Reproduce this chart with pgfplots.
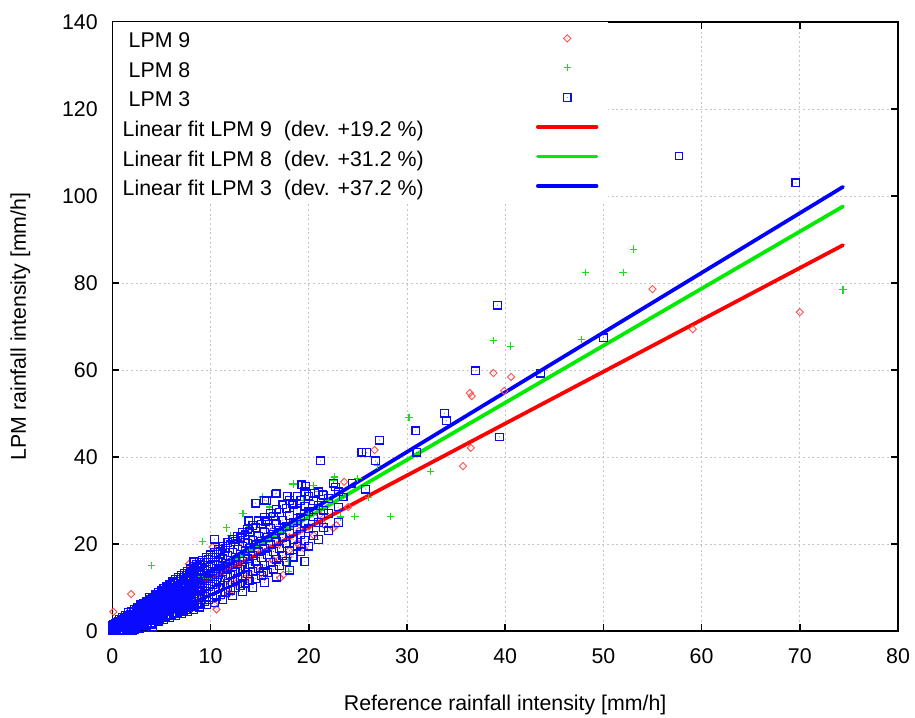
\documentclass[border=0pt]{standalone}
\usepackage{fontspec}
\setmainfont{Liberation Sans}
\usepackage{pgfplots}
\pgfplotsset{compat=1.18}

\definecolor{fitred}{RGB}{255,0,0}
\definecolor{fitgreen}{RGB}{0,235,0}
\definecolor{fitblue}{RGB}{0,0,255}
\definecolor{ptred}{RGB}{255,80,80}
\definecolor{ptgreen}{RGB}{20,225,20}
\definecolor{ptblue}{RGB}{10,10,255}

% square / diamond with a dot in the middle
\pgfdeclareplotmark{sqdot}{%
  \pgfpathrectangle{\pgfqpoint{-\pgfplotmarksize}{-\pgfplotmarksize}}{\pgfqpoint{2\pgfplotmarksize}{2\pgfplotmarksize}}%
  \pgfusepathqstroke
  \pgfpathcircle{\pgfpointorigin}{0.35pt}\pgfusepathqfill}
\pgfdeclareplotmark{diadot}{%
  \pgfpathmoveto{\pgfqpoint{0pt}{\pgfplotmarksize}}%
  \pgfpathlineto{\pgfqpoint{\pgfplotmarksize}{0pt}}%
  \pgfpathlineto{\pgfqpoint{0pt}{-\pgfplotmarksize}}%
  \pgfpathlineto{\pgfqpoint{-\pgfplotmarksize}{0pt}}%
  \pgfpathclose\pgfusepathqstroke
  \pgfpathcircle{\pgfpointorigin}{0.3pt}\pgfusepathqfill}

\pgfplotsset{
  markleg/.style={legend image code/.code={%
      \path[draw=none, fill=none] (0pt,-4pt) rectangle (44pt,4pt);
      \draw[##1] plot coordinates {(22pt,0pt)};}},
  lineleg/.style={legend image code/.code={%
      \path[draw=none, fill=none] (0pt,-4pt) rectangle (44pt,4pt);
      \draw[##1] (0pt,0pt) -- (44pt,0pt);}},
}

\newcommand{\lent}[1]{\makebox[302pt][l]{\rule[-5pt]{0pt}{21.75pt}#1}}

\begin{document}
\fontsize{16}{19}\selectfont
\begin{tikzpicture}
\begin{axis}[
    scale only axis,
    width=589.2pt,
    height=456.75pt,
    xmin=0, xmax=80,
    ymin=0, ymax=140,
    xtick={0,10,...,80},
    ytick={0,20,...,140},
    grid=major,
    grid style={line width=0.6pt, gray!45, dash pattern=on 1.5pt off 2pt},
    axis line style={line width=1.2pt},
    tick align=inside,
    major tick length=5pt,
    tick style={line width=1.1pt, black},
    /pgf/number format/assume math mode=true,
    xticklabel style={yshift=-8pt},
    yticklabel style={xshift=-5.5pt},
    xlabel={Reference rainfall intensity [mm/h]},
    ylabel={LPM rainfall intensity [mm/h]},
    xlabel style={at={(axis description cs:0.5,-0.1215)}, anchor=center},
    ylabel style={at={(axis description cs:-0.117,0.5)}, anchor=center},
    legend style={draw=none, fill=white, at={(0,1)}, anchor=north west,
        inner xsep=7.5pt, inner ysep=2.5pt, row sep=3pt, column sep=8pt,
        nodes={inner sep=0pt}},
    legend cell align=left,
    legend plot pos=right,
    clip=false,
]
\coordinate (sw) at (rel axis cs:0,0);
\coordinate (ne) at (rel axis cs:1,1);

% LPM 9
\addplot[only marks, mark=diadot, mark size=2.7pt, color=ptred, line width=0.7pt, markleg]
coordinates {
(0.1,4.4) (0.2,2.0) (1.9,8.5) (7.8,15.4) (10.2,19.3) (10.6,5.0) (10.4,6.0)
(11.9,8.7) (11.8,8.5) (12.6,11.0) (9.3,8.3) (16.4,16.3) (17.1,12.2) (17.4,12.9)
(17.9,17.0) (18.8,20.2) (16.3,16.3) (19.0,20.0)
(21.1,26.7) (22.5,23.7) (23.6,34.3) (24.0,28.5) (26.7,41.6) (35.7,37.9)
(36.4,54.7) (36.6,54.0) (36.5,42.1) (38.8,59.3) (39.9,55.2) (40.6,58.4)
(55.0,78.6) (59.1,69.4) (70.0,73.3)
(1,1) (2,2.2) (3,3.5) (4,4.8) (5,5.8) (6,7) (7,8.5) (8,9.5) (9,10.8) (10,12)
(11,13) (12,14.5) (13,15.5) (14,16.5) (15,18) (16,19) (17,20) (18,21.5) (19,23)
(20,24) (14,13) (13,20.5) (16,24) (15,14.5) (12,11) (9,7) (19.5,19) (20.5,22)
(21.5,24.5) (22.8,24.3) (17,16.5) (8.3,13) (6,9.5) (3,6.5) (4.5,8) (13.5,12)
(11,10) (14,11.5) (15.5,12.5) (18,18.5)
};
\addlegendentry{\lent{\hspace{4.5pt}LPM 9}}

% LPM 8
\addplot[only marks, mark=+, mark size=2.7pt, color=ptgreen, line width=0.8pt, markleg]
coordinates {
(4.0,15.0) (9.2,20.5) (11.6,23.7) (13.3,27.1) (15.3,30.8) (16.0,28.5) (16.2,26.4)
(17.9,15.9) (17.9,13.6) (18.4,33.8) (22.5,34.7) (22.6,35.4) (23.2,26.2) (24.7,26.4)
(26.1,30.6) (28.3,26.4) (30.2,49.0) (32.4,36.6) (38.8,66.7) (40.5,65.5)
(47.8,67.1) (48.2,82.5) (52.0,82.5) (53.1,87.8) (74.4,78.4)
(1,1.3) (2,2.8) (3,3.5) (5,6.8) (6,7.5) (7,9.5) (8,10) (9,12.5) (10,12) (11,15)
(12,16) (13,17) (14,18.5) (15,20) (16,21) (17,22.5) (18,24) (19,25) (20,27)
(21,28) (22,30) (14,24.0) (12,22) (19.5,30) (20.5,33.5) (21,32) (25,35) (27,38)
};
\addlegendentry{\lent{\hspace{4.5pt}LPM 8}}

% LPM 3
\addplot[only marks, mark=sqdot, mark size=2.9pt, color=ptblue, line width=0.9pt, markleg]
coordinates {
(0.0,0) (0.0,0.6) (0.0,1.2)
(0.3,0) (0.3,0.4) (0.3,1.0) (0.3,1.8)
(0.6,0) (0.6,0.8) (0.6,1.5) (0.6,2.2)
(0.9,0.2) (0.9,1.0) (0.9,1.8) (0.9,2.6)
(1.2,0.3) (1.2,1.2) (1.2,2.1) (1.2,3.0)
(1.5,0) (1.5,0.5) (1.5,1.4) (1.5,2.4) (1.5,3.4)
(1.8,0.6) (1.8,1.7) (1.8,2.8) (1.8,3.9)
(2.0,0.2) (2.1,0.8) (2.1,2.0) (2.1,3.1) (2.1,4.3)
(2.4,1.0) (2.4,2.2) (2.4,3.4) (2.4,4.7)
(2.8,0.5) (2.7,1.2) (2.7,2.5) (2.7,3.8) (2.7,5.1)
(3.0,1.4) (3.0,2.8) (3.0,4.2) (3.0,5.6)
(3.2,0.8) (3.3,1.6) (3.3,3.1) (3.3,4.6) (3.3,6.0)
(3.6,1.8) (3.6,3.4) (3.6,5.0) (3.6,6.5)
(3.8,7.8) (3.9,2.0) (3.9,3.7) (3.9,5.4) (3.9,7.0) (4.1,0.9)
(4.2,2.3) (4.2,4.0) (4.2,5.8) (4.2,7.5)
(4.5,2.5) (4.5,4.3) (4.5,6.2) (4.5,8.0)
(4.8,2.8) (4.8,4.7) (4.8,6.6) (4.8,8.5)
(5.1,3.0) (5.1,5.0) (5.1,7.0) (5.1,9.0)
(5.4,3.3) (5.4,5.3) (5.4,7.4) (5.4,9.4)
(5.7,3.5) (5.7,5.6) (5.7,7.8) (5.7,9.9)
(6.0,3.8) (6.0,6.0) (6.0,8.2) (6.0,10.4)
(6.3,4.0) (6.3,6.3) (6.3,8.6) (6.3,10.9)
(6.6,4.3) (6.6,6.6) (6.6,9.0) (6.6,11.4)
(6.9,4.5) (6.9,7.0) (6.9,9.4) (6.9,11.9)
(7.2,4.8) (7.2,7.3) (7.2,9.8) (7.2,12.4)
(7.5,5.0) (7.5,7.6) (7.5,10.2) (7.5,12.8)
(7.8,5.3) (7.8,8.0) (7.8,10.6) (7.8,13.3)
(8.1,5.6) (8.1,8.3) (8.1,11.0) (8.1,13.8)
(8.3,15.9) (8.4,5.8) (8.4,8.6) (8.4,11.4) (8.4,14.3)
(8.7,6.1) (8.7,9.0) (8.7,11.8) (8.7,14.8)
(9.0,6.4) (9.0,9.3) (9.0,12.2) (9.0,15.2) (9.1,7.3)
(9.4,6.8) (9.4,9.8) (9.4,12.8) (9.4,15.8)
(9.8,7.2) (9.8,10.2) (9.8,13.3) (9.8,16.4)
(10.2,7.6) (10.2,10.7) (10.2,13.8) (10.2,17.0) (10.4,21.1)
(10.6,8.0) (10.6,11.2) (10.6,14.4) (10.6,17.6)
(11.0,8.4) (11.0,11.7) (11.0,15.0) (11.0,18.2)
(11.5,8.9) (11.5,12.3) (11.5,15.6) (11.5,19.0)
(12.0,9.4) (12.0,12.9) (12.0,16.3) (12.0,19.8) (12.3,21.1)
(12.5,9.9) (12.5,13.5) (12.5,17.0) (12.5,20.6)
(13.0,10.4) (13.0,14.1) (13.0,17.7) (13.0,21.4)
(13.5,11.0) (13.5,14.7) (13.5,18.4) (13.5,22.1)
(13.9,25.3) (14.0,11.5) (14.0,15.3) (14.0,19.0) (14.0,22.8)
(14.6,29.4) (14.6,12.1) (14.6,16.0) (14.6,19.8) (14.6,23.7)
(15.2,12.8) (15.2,16.8) (15.2,20.6) (15.2,24.6) (15.4,13.6)
(15.5,30.1) (15.6,25.1) (15.7,29.9)
(15.8,13.5) (15.8,17.5) (15.8,21.5) (15.8,25.5)
(16.4,14.2) (16.4,18.3) (16.4,22.3) (16.4,26.4)
(16.6,31.5) (16.7,31.7)
(17.0,15.0) (17.0,19.0) (17.0,23.1) (17.0,27.2)
(17.7,16.0) (17.7,20.0) (17.7,24.0) (17.7,28.2) (17.8,31.0)
(18.3,29.4) (18.4,17.0) (18.4,21.0) (18.4,25.0) (18.4,29.0)
(19.2,18.2) (19.2,22.2) (19.2,26.2) (19.2,30.0) (19.3,33.6) (19.7,33.3)
(20.0,19.5) (20.0,23.5) (20.0,27.4) (20.0,31.0) (20.6,31.7)
(21.0,21.0) (21.0,25.0) (21.0,28.8) (21.0,32.0) (21.2,39.1) (21.4,31.3)
(22.0,23.0) (22.0,27.0) (22.0,30.5) (22.5,34.0) (22.7,33.1)
(23.0,25.0) (23.0,28.5) (23.0,32.0) (23.5,30.8) (24.4,34.0)
(25.4,41.1) (25.9,41.0) (25.8,32.6) (26.8,39.1) (27.2,43.9)
(30.9,46.0) (31.0,41.1) (33.8,50.1) (34.0,48.3) (37.0,59.8) (39.2,74.9)
(39.4,44.6) (43.6,59.3) (50.0,67.4) (57.7,109.2) (69.6,103.0)
(0.15,0.3) (0.15,0.9) (0.15,1.5)
(0.45,0.2) (0.45,0.7) (0.45,1.3) (0.45,2.0)
(0.75,0.4) (0.75,1.2) (0.75,2.0) (0.75,2.6)
(1.05,0.1) (1.05,0.7) (1.05,1.6) (1.05,2.5) (1.05,3.2)
(1.35,0.9) (1.35,1.8) (1.35,2.8) (1.35,3.6)
(1.65,0.2) (1.65,1.1) (1.65,2.2) (1.65,3.3) (1.65,4.2)
(1.95,1.3) (1.95,2.5) (1.95,3.6) (1.95,4.6)
(2.25,0.4) (2.25,1.5) (2.25,2.7) (2.25,3.9) (2.25,5.0)
(2.55,1.7) (2.55,3.0) (2.55,4.3) (2.55,5.5)
(2.85,0.8) (2.85,2.0) (2.85,3.3) (2.85,4.7) (2.85,6.0)
(3.15,2.2) (3.15,3.6) (3.15,5.1) (3.15,6.4)
(3.45,1.2) (3.45,2.5) (3.45,4.0) (3.45,5.5) (3.45,6.9)
(3.75,2.7) (3.75,4.3) (3.75,5.9) (3.75,7.3)
(4.05,1.6) (4.05,3.0) (4.05,4.7) (4.05,6.3) (4.05,7.8)
(4.35,3.3) (4.35,5.0) (4.35,6.7) (4.35,8.3)
(4.65,2.1) (4.65,3.6) (4.65,5.4) (4.65,7.1) (4.65,8.8)
(4.95,4.0) (4.95,5.8) (4.95,7.6) (4.95,9.3)
(5.25,2.6) (5.25,4.2) (5.25,6.2) (5.25,8.0) (5.25,9.8)
(5.55,4.5) (5.55,6.5) (5.55,8.4) (5.55,10.3)
(5.85,3.0) (5.85,4.8) (5.85,6.9) (5.85,8.9) (5.85,10.8)
(6.15,5.1) (6.15,7.2) (6.15,9.3) (6.15,11.3)
(6.45,3.5) (6.45,5.4) (6.45,7.6) (6.45,9.8) (6.45,11.8)
(6.75,5.7) (6.75,8.0) (6.75,10.2) (6.75,12.3)
(7.05,4.0) (7.05,6.0) (7.05,8.3) (7.05,10.6) (7.05,12.8)
(7.35,6.3) (7.35,8.7) (7.35,11.0) (7.35,13.3)
(7.65,4.5) (7.65,6.7) (7.65,9.1) (7.65,11.5) (7.65,13.8)
(7.95,7.0) (7.95,9.5) (7.95,11.9) (7.95,14.3)
(8.25,5.0) (8.25,7.3) (8.25,9.8) (8.25,12.3) (8.25,14.8)
(8.55,7.6) (8.55,10.2) (8.55,12.8) (8.55,15.3)
(8.85,5.5) (8.85,8.0) (8.85,10.6) (8.85,13.2) (8.85,15.8)
(9.2,8.3) (9.2,11.0) (9.2,13.7) (9.2,16.3)
(9.6,6.0) (9.6,8.7) (9.6,11.5) (9.6,14.2) (9.6,16.9)
(10.0,9.1) (10.0,12.0) (10.0,14.8) (10.0,17.5)
(10.4,6.6) (10.4,9.5) (10.4,12.5) (10.4,15.3) (10.4,18.1)
(10.8,9.9) (10.8,13.0) (10.8,15.9) (10.8,18.7)
(11.25,7.3) (11.25,10.4) (11.25,13.6) (11.25,16.6) (11.25,19.5)
(11.75,10.9) (11.75,14.2) (11.75,17.3) (11.75,20.3)
(12.25,8.2) (12.25,11.4) (12.25,14.8) (12.25,18.0) (12.25,21.0)
(12.75,12.0) (12.75,15.4) (12.75,18.7) (12.75,21.8)
(13.25,9.1) (13.25,12.6) (13.25,16.0) (13.25,19.4) (13.25,22.6)
(13.75,13.1) (13.75,16.6) (13.75,20.1) (13.75,23.4)
(14.3,10.0) (14.3,13.7) (14.3,17.4) (14.3,20.9) (14.3,24.3)
(14.9,14.4) (14.9,18.2) (14.9,21.8) (14.9,25.3)
(15.5,11.2) (15.5,15.1) (15.5,19.0) (15.5,22.7) (15.5,26.2)
(16.1,15.8) (16.1,19.8) (16.1,23.6) (16.1,27.1)
(16.7,12.4) (16.7,16.5) (16.7,20.5) (16.7,24.5) (16.7,28.0)
(17.35,17.4) (17.35,21.5) (17.35,25.5) (17.35,29.0)
(18.05,14.0) (18.05,18.4) (18.05,22.5) (18.05,26.5) (18.05,30.0)
(18.8,19.5) (18.8,23.6) (18.8,27.6) (18.8,31.0)
(19.6,16.0) (19.6,20.8) (19.6,24.8) (19.6,28.7) (19.6,32.0)
(20.5,22.0) (20.5,26.2) (20.5,30.0)
(21.5,23.8) (21.5,27.8) (21.5,31.2)
};
\addlegendentry{\lent{\hspace{4.5pt}LPM 3}}

% linear fits
\addplot[color=fitred, line width=2.8pt, line cap=round, lineleg]
coordinates {(0,0) (74.4,88.7)};
\addlegendentry{\lent{Linear fit LPM 9\ \ (dev. +19.2 \%)}}

\addplot[color=fitgreen, line width=2.8pt, line cap=round, lineleg]
coordinates {(0,0) (74.4,97.6)};
\addlegendentry{\lent{Linear fit LPM 8\ \ (dev. +31.2 \%)}}

\addplot[color=fitblue, line width=2.8pt, line cap=round, lineleg]
coordinates {(0,0) (74.4,102.1)};
\addlegendentry{\lent{Linear fit LPM 3\ \ (dev. +37.2 \%)}}

\end{axis}
\pgfresetboundingbox
\path ([shift={(-84.3pt,-64.5pt)}]sw) rectangle ([shift={(12.75pt,16.5pt)}]ne);
\end{tikzpicture}
\end{document}
